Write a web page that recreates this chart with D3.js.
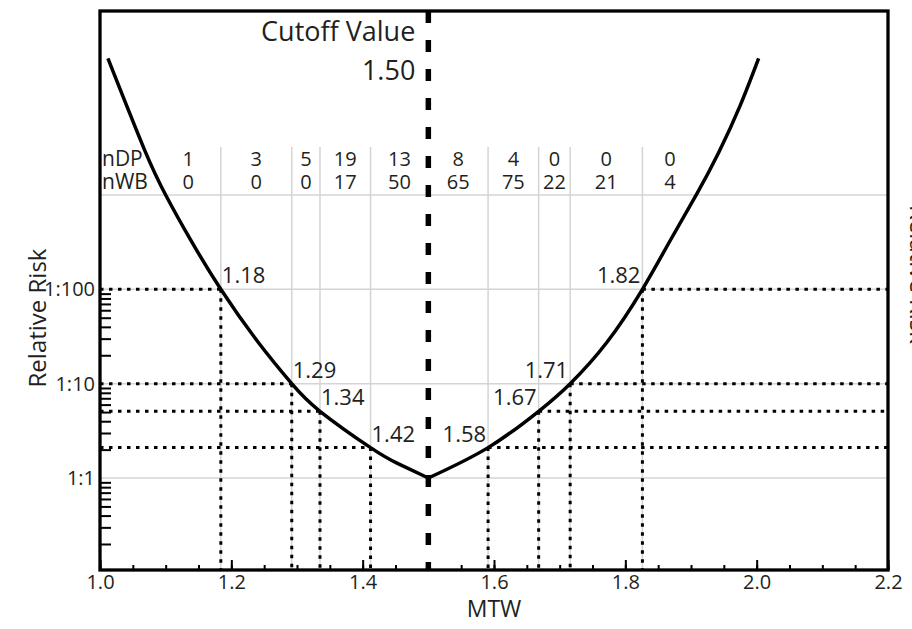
<!DOCTYPE html>
<meta charset="utf-8">
<script src="https://d3js.org/d3.v7.min.js"></script>
<style>
  body { margin: 0; background: #fff; }
</style>
<div id="chart"></div>
<script>

// ---- data ----
var riskLevels = [100, 10, 5.1, 2.1];                  // horizontal reference levels
var leftCuts   = [1.184, 1.292, 1.335, 1.412];          // MTW where the curve crosses them (left)
var leftLabels = ["1.18", "1.29", "1.34", "1.42"];
var rightCuts  = [1.826, 1.716, 1.668, 1.591];          // same levels, right branch
var rightLabels = ["1.82", "1.71", "1.67", "1.58"];
var cutoff = 1.50;

// curve, left and right branch (MTW, relative risk)
var leftBranch = [[1.012, 28000], [1.067, 3100], [1.100, 1000], [1.138, 334], [1.184, 100],
                  [1.240, 28], [1.292, 10], [1.335, 5.1], [1.412, 2.1], [1.453, 1.43], [1.50, 1]];
var rightBranch = [[1.50, 1], [1.591, 2.1], [1.668, 5.1], [1.716, 10], [1.772, 27.5], [1.826, 100],
                   [1.869, 335], [1.908, 1000], [1.942, 2800], [1.975, 8900], [2.003, 28000]];

// count table on top
var colBounds = [1.085, 1.184, 1.292, 1.335, 1.412, 1.50, 1.591, 1.668, 1.716, 1.826, 1.91];
var nDP = [1, 3, 5, 19, 13, 8, 4, 0, 0, 0];
var nWB = [0, 0, 0, 17, 50, 65, 75, 22, 21, 4];

var xTickLabels = [1.0, 1.2, 1.4, 1.6, 1.8, 2.0, 2.2];
var yTickLabels = [1, 10, 100];
var yGrid = [1, 10, 100, 1000];

// ---- layout ----
var W = 912, H = 629;
var mLeft = 100, mRight = 888, mTop = 11, mBottom = 570;
var ink = "#231f20";

var svg = d3.select("#chart").append("svg")
    .attr("width", W).attr("height", H);

var x = d3.scaleLinear().domain([1.0, 2.2]).range([mLeft, mRight]);
var y = d3.scaleLog().domain([0.106, 89000]).range([mBottom, mTop]);

// gray grid
var grid = svg.append("g").attr("stroke", "#d4d4d4").attr("stroke-width", 1.5);
grid.selectAll(".hg").data(yGrid).enter().append("line")
    .attr("x1", mLeft).attr("x2", mRight)
    .attr("y1", function(d) { return y(d); }).attr("y2", function(d) { return y(d); });
grid.selectAll(".vg").data(leftCuts.concat(rightCuts)).enter().append("line")
    .attr("x1", function(d) { return x(d); }).attr("x2", function(d) { return x(d); })
    .attr("y1", 147).attr("y2", mBottom);

// dotted reference lines
var dots = svg.append("g").attr("stroke", "#000").attr("stroke-width", 3)
    .attr("stroke-dasharray", "3.5,5.5");
riskLevels.forEach(function(r, i) {
  dots.append("line")
      .attr("x1", x(1.0)).attr("x2", x(leftCuts[i]))
      .attr("y1", y(r)).attr("y2", y(r));
  dots.append("line")
      .attr("x1", x(rightCuts[i])).attr("x2", x(2.2))
      .attr("y1", y(r)).attr("y2", y(r));
  dots.append("line")
      .attr("x1", x(leftCuts[i])).attr("x2", x(leftCuts[i]))
      .attr("y1", y(r)).attr("y2", mBottom);
  dots.append("line")
      .attr("x1", x(rightCuts[i])).attr("x2", x(rightCuts[i]))
      .attr("y1", y(r)).attr("y2", mBottom);
});

// the risk curve
var line = d3.line()
    .x(function(d) { return x(d[0]); })
    .y(function(d) { return y(d[1]); })
    .curve(d3.curveNatural);
[leftBranch, rightBranch].forEach(function(b) {
  svg.append("path").datum(b)
      .attr("fill", "none").attr("stroke", "#000")
      .attr("stroke-width", 3.5).attr("stroke-linejoin", "round")
      .attr("d", line);
});

// cutoff line
svg.append("line")
    .attr("x1", x(cutoff)).attr("x2", x(cutoff))
    .attr("y1", mTop).attr("y2", mBottom)
    .attr("stroke", "#000").attr("stroke-width", 5.5)
    .attr("stroke-dasharray", "12,17");

// x axis ticks (inward) and labels
var xAxisMinor = d3.axisBottom(x).tickValues(d3.range(0, 25).map(function(i) { return 1 + i * 0.05; }))
    .tickSize(-5).tickFormat("");
var xAxis = d3.axisBottom(x).tickValues(xTickLabels).tickSize(-10).tickPadding(5)
    .tickFormat(d3.format(".1f"));
svg.append("g").attr("transform", "translate(0," + mBottom + ")").call(xAxisMinor)
    .call(function(g) { g.select(".domain").remove(); g.selectAll("line").attr("stroke-width", 2); });
svg.append("g").attr("transform", "translate(0," + mBottom + ")").call(xAxis)
    .call(function(g) {
      g.select(".domain").remove();
      g.selectAll("line").attr("stroke-width", 2);
      g.selectAll("text").attr("font-size", 20).attr("font-family", "Open Sans").attr("fill", ink);
    });

// y axis minor log ticks and labels
var yMinor = [];
[0.1, 1, 10].forEach(function(p) { d3.range(2, 10).forEach(function(m) { yMinor.push(m * p); }); });
svg.append("g").attr("transform", "translate(" + mLeft + ",0)")
    .call(d3.axisLeft(y).tickValues(yMinor).tickSize(-11).tickFormat(""))
    .call(function(g) { g.select(".domain").remove(); g.selectAll("line").attr("stroke-width", 2); });
svg.append("g").attr("transform", "translate(" + mLeft + ",0)")
    .call(d3.axisLeft(y).tickValues(yTickLabels).tickSize(0).tickPadding(5)
      .tickFormat(function(d) { return "1:" + d; }))
    .call(function(g) {
      g.select(".domain").remove();
      g.selectAll("text").attr("font-size", 20).attr("font-family", "Open Sans").attr("fill", ink);
    });

// frame
svg.append("rect")
    .attr("x", mLeft).attr("y", mTop)
    .attr("width", mRight - mLeft).attr("height", mBottom - mTop)
    .attr("fill", "none").attr("stroke", "#000").attr("stroke-width", 3.3);

// labels at the crossings
var txt = svg.append("g").attr("font-family", "Open Sans").attr("fill", ink);
riskLevels.forEach(function(r, i) {
  txt.append("text").attr("x", x(leftCuts[i]) + 1).attr("y", y(r) - 6)
      .attr("font-size", 22).text(leftLabels[i]);
  txt.append("text").attr("x", x(rightCuts[i]) - 2).attr("y", y(r) - 6)
      .attr("text-anchor", "end").attr("font-size", 22).text(rightLabels[i]);
});

// cutoff annotation
txt.append("text").attr("x", x(cutoff) - 13).attr("y", 41)
    .attr("text-anchor", "end").attr("font-size", 27).text("Cutoff Value");
txt.append("text").attr("x", x(cutoff) - 13).attr("y", 80)
    .attr("text-anchor", "end").attr("font-size", 27).text(d3.format(".2f")(cutoff));

// count table
txt.append("text").attr("x", mLeft + 2).attr("y", 166).attr("font-size", 21).text("nDP");
txt.append("text").attr("x", mLeft + 2).attr("y", 189).attr("font-size", 21).text("nWB");
nDP.forEach(function(v, i) {
  var cx = x((colBounds[i] + colBounds[i + 1]) / 2);
  txt.append("text").attr("x", cx).attr("y", 166).attr("text-anchor", "middle")
      .attr("font-size", 20).text(v);
  txt.append("text").attr("x", cx).attr("y", 189).attr("text-anchor", "middle")
      .attr("font-size", 20).text(nWB[i]);
});

// axis titles
txt.append("text").attr("x", x(1.6)).attr("y", 617).attr("text-anchor", "middle")
    .attr("font-size", 23).text("MTW");
txt.append("text").attr("transform", "translate(46,318) rotate(-90)")
    .attr("text-anchor", "middle").attr("font-size", 24).text("Relative Risk");
txt.append("text").attr("transform", "translate(910,205) rotate(90)")
    .attr("font-size", 24).text("Relative Risk");

</script>
